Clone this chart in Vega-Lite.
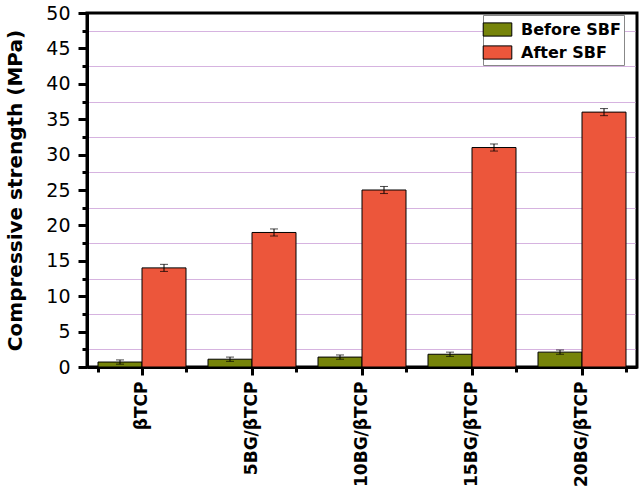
{
  "$schema": "https://vega.github.io/schema/vega-lite/v6.json",
  "width": 550,
  "height": 354,
  "autosize": {"type": "none"},
  "padding": {"left": 87, "top": 13, "right": 7, "bottom": 127},
  "background": "white",
  "config": {
    "font": "DejaVu Sans",
    "view": {"stroke": "black", "strokeWidth": 3},
    "axis": {"grid": false}
  },
  "data": {
    "values": [
      {"sample": "βTCP", "cond": "Before SBF", "value": 0.7, "err": 0.3},
      {"sample": "βTCP", "cond": "After SBF", "value": 14.0, "err": 0.5},
      {"sample": "5BG/βTCP", "cond": "Before SBF", "value": 1.1, "err": 0.3},
      {"sample": "5BG/βTCP", "cond": "After SBF", "value": 19.0, "err": 0.5},
      {"sample": "10BG/βTCP", "cond": "Before SBF", "value": 1.4, "err": 0.3},
      {"sample": "10BG/βTCP", "cond": "After SBF", "value": 25.0, "err": 0.5},
      {"sample": "15BG/βTCP", "cond": "Before SBF", "value": 1.8, "err": 0.3},
      {"sample": "15BG/βTCP", "cond": "After SBF", "value": 31.0, "err": 0.5},
      {"sample": "20BG/βTCP", "cond": "Before SBF", "value": 2.1, "err": 0.3},
      {"sample": "20BG/βTCP", "cond": "After SBF", "value": 36.0, "err": 0.5}
    ]
  },
  "encoding": {
    "x": {
      "field": "sample", "type": "nominal",
      "sort": ["βTCP", "5BG/βTCP", "10BG/βTCP", "15BG/βTCP", "20BG/βTCP"],
      "scale": {"paddingInner": 0.2, "paddingOuter": 0.1}
    },
    "xOffset": {"field": "cond", "type": "nominal", "sort": ["Before SBF", "After SBF"]}
  },
  "layer": [
    {
      "mark": {"type": "point", "opacity": 0},
      "encoding": {
        "x": {
          "field": "sample", "type": "nominal",
          "sort": ["βTCP", "5BG/βTCP", "10BG/βTCP", "15BG/βTCP", "20BG/βTCP"],
          "axis": null
        },
        "y": {
          "field": "value", "type": "quantitative",
          "scale": {"domain": [0, 50]},
          "axis": {
            "orient": "left", "title": null, "labels": false, "domain": false, "grid": false,
            "values": [2.5, 7.5, 12.5, 17.5, 22.5, 27.5, 32.5, 37.5, 42.5, 47.5],
            "tickSize": -548, "tickWidth": 1.2, "tickColor": "#d6b3e0", "tickOpacity": 1, "zindex": 0
          }
        }
      }
    },
    {
      "mark": {"type": "bar", "stroke": "black", "strokeWidth": 1},
      "encoding": {
        "x": {
          "field": "sample", "type": "nominal",
          "sort": ["βTCP", "5BG/βTCP", "10BG/βTCP", "15BG/βTCP", "20BG/βTCP"],
          "axis": {
            "orient": "bottom",
            "title": null, "labelAngle": -90, "labelAlign": "right", "labelBaseline": "middle",
            "labelFontSize": 17, "labelFontWeight": "bold", "labelColor": "black", "labelPadding": 6,
            "tickSize": 8, "tickWidth": 3, "tickColor": "black", "domainColor": "black", "domainWidth": 3
          }
        },
        "y": {
          "field": "value", "type": "quantitative",
          "axis": {
            "orient": "left", "title": null, "labels": false, "domain": false, "grid": false,
            "values": [2.5, 7.5, 12.5, 17.5, 22.5, 27.5, 32.5, 37.5, 42.5, 47.5],
            "tickSize": 5, "tickWidth": 3, "tickColor": "black"
          }
        },
        "color": {
          "field": "cond", "type": "nominal",
          "scale": {"domain": ["Before SBF", "After SBF"], "range": ["#76840a", "#ec563b"]},
          "legend": {
            "title": null, "orient": "none", "legendX": 396, "legendY": 2,
            "labelFontSize": 16, "labelFontWeight": "bold", "labelColor": "black",
            "symbolType": "M-1.3,-0.6H1.3V0.6H-1.3Z", "symbolSize": 484,
            "symbolStrokeColor": "black", "symbolStrokeWidth": 1, "symbolOpacity": 1,
            "strokeColor": "#888888", "fillColor": "white", "padding": 3, "rowPadding": 2,
            "labelOffset": 12
          }
        }
      }
    },
    {
      "mark": {"type": "errorbar", "ticks": {"size": 8, "color": "black"}, "color": "black", "thickness": 1},
      "encoding": {
        "x": {
          "field": "sample", "type": "nominal",
          "sort": ["βTCP", "5BG/βTCP", "10BG/βTCP", "15BG/βTCP", "20BG/βTCP"],
          "axis": {
            "orient": "bottom",
            "title": null, "labels": false, "domain": false, "tickBand": "extent",
            "tickSize": 5, "tickWidth": 3, "tickColor": "black"
          }
        },
        "y": {
          "field": "value", "type": "quantitative",
          "axis": {
            "orient": "left", "title": "Compressive strength (MPa)",
            "titleFontSize": 20, "titleFontWeight": "bold", "titleColor": "black", "titlePadding": 20,
            "values": [0, 5, 10, 15, 20, 25, 30, 35, 40, 45, 50],
            "labelFontSize": 19, "labelColor": "black", "labelPadding": 8,
            "grid": false, "tickSize": 9, "tickWidth": 3, "tickColor": "black",
            "domainColor": "black", "domainWidth": 3
          }
        },
        "yError": {"field": "err"}
      }
    }
  ],
  "resolve": {"axis": {"y": "independent", "x": "independent"}}
}
